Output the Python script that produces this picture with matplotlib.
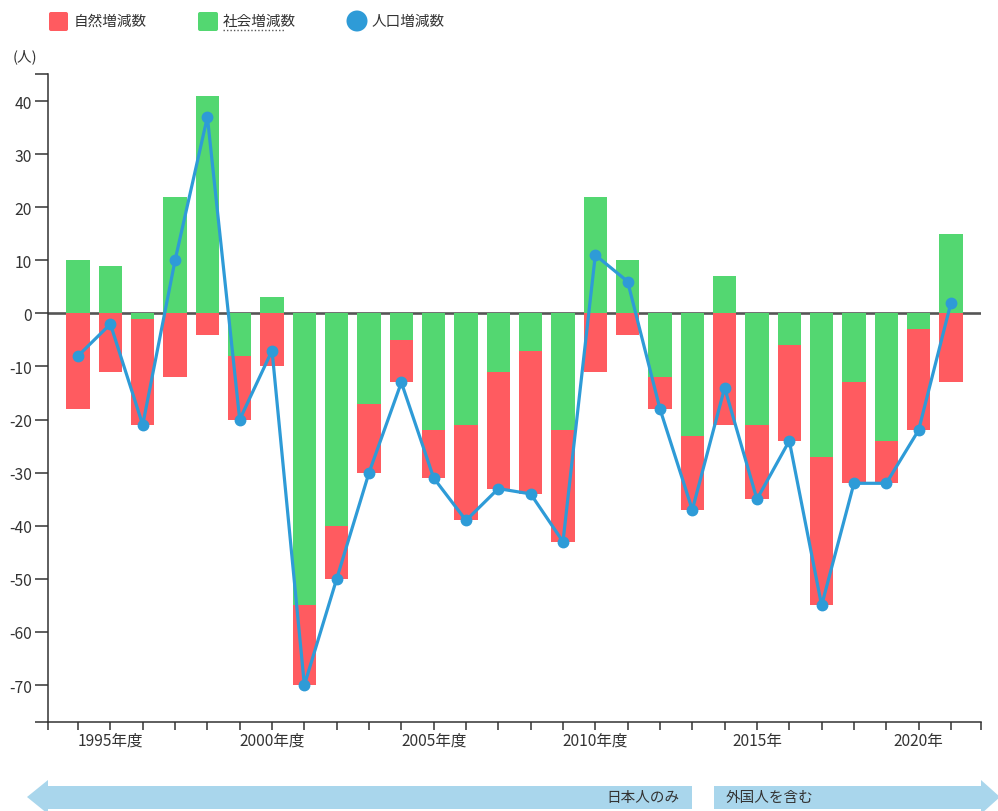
#!/usr/bin/env python3
"""
Population change chart: natural / social change (stacked bars) and total (line).
"""
import matplotlib
matplotlib.use("Agg")
import matplotlib.pyplot as plt
from matplotlib.patches import Polygon, FancyBboxPatch, Circle

plt.rcParams["font.family"] = ["Noto Sans CJK JP", "DejaVu Sans"]

years = list(range(1994, 2022))
natural = [-18, -11, -20, -12, -4, -12, -10, -15, -10, -13, -8, -9, -18, -22,
           -27, -21, -11, -4, -6, -14, -21, -14, -18, -28, -19, -8, -19, -13]
social = [10, 9, -1, 22, 41, -8, 3, -55, -40, -17, -5, -22, -21, -11,
          -7, -22, 22, 10, -12, -23, 7, -21, -6, -27, -13, -24, -3, 15]
total = [-8, -2, -21, 10, 37, -20, -7, -70, -50, -30, -13, -31, -39, -33,
         -34, -43, 11, 6, -18, -37, -14, -35, -24, -55, -32, -32, -22, 2]
label_years = [1995, 2000, 2005, 2010, 2015, 2020]
label_texts = ["1995年度", "2000年度", "2005年度", "2010年度", "2015年", "2020年"]
yticks = [40, 30, 20, 10, 0, -10, -20, -30, -40, -50, -60, -70]
series_names = ["自然増減数", "社会増減数", "人口増減数"]
period_names = ["日本人のみ", "外国人を含む"]

RED = "#ff5b60"
GREEN = "#53d771"
BLUE = "#2e9bd7"
ARROW = "#a9d6ec"
TEXT = "#333333"

W, H = 998, 812
fig = plt.figure(figsize=(W / 100, H / 100), dpi=100)
ax = fig.add_axes([48 / W, 1 - 723 / H, (981 - 48) / W, (723 - 75) / H])

# stacking: social sits next to zero, natural continues past it (same sign)
nat_bottom = [s if s < 0 else 0 for s in social]
ax.axhline(0, color="#555555", lw=1.9, zorder=1)
ax.bar(years, social, width=0.72, color=GREEN, zorder=2)
ax.bar(years, natural, width=0.72, bottom=nat_bottom, color=RED, zorder=2)
ax.plot(years, total, color=BLUE, lw=2.3, marker="o", ms=7.5, zorder=3)

x0, x1 = 1993.07, 2021.93
y0, y1 = -76.96, 45.09
ax.set_xlim(x0, x1)
ax.set_ylim(y0, y1)

for side in ["top", "right"]:
    ax.spines[side].set_visible(False)
for side in ["left", "bottom"]:
    ax.spines[side].set_color(TEXT)
    ax.spines[side].set_linewidth(1.1)

ax.set_yticks(yticks)
ax.set_yticklabels([str(v) for v in yticks])
ax.set_yticks([y0, y1], minor=True)
ax.tick_params(axis="y", which="both", length=9.5, width=1.1, color=TEXT,
               labelsize=11.3, labelcolor=TEXT, pad=2)

ax.set_xticks(years)
ax.set_xticklabels([label_texts[label_years.index(y)] if y in label_years else ""
                    for y in years])
ax.set_xticks([x0, x1], minor=True)
ax.tick_params(axis="x", which="both", length=6, width=1.1, color=TEXT,
               labelsize=11.2, labelcolor=TEXT, pad=1)

# overlay in pixel coordinates for legend, unit label and period arrows
ov = fig.add_axes([0, 0, 1, 1], facecolor="none")
ov.set_xlim(0, W)
ov.set_ylim(H, 0)
ov.axis("off")

ov.add_patch(FancyBboxPatch((49, 13), 19, 19, boxstyle="round,pad=0,rounding_size=2",
                            color=RED, lw=0))
ov.text(74, 22, series_names[0], fontsize=10.5, color=TEXT, va="center")
ov.add_patch(FancyBboxPatch((198, 13), 20, 19, boxstyle="round,pad=0,rounding_size=2",
                            color=GREEN, lw=0))
ov.text(223, 22, series_names[1], fontsize=10.5, color=TEXT, va="center")
ov.plot([223, 285], [31, 31], color="#555555", lw=1, ls=(0, (1, 1.5)))
ov.add_patch(Circle((357, 22), 10.5, color=BLUE, lw=0))
ov.text(372, 22, series_names[2], fontsize=10.5, color=TEXT, va="center")

ov.text(13, 57, "(人)", fontsize=10.5, color=TEXT, va="center")

ov.add_patch(Polygon([(27, 798), (48, 781), (48, 787), (692, 787), (692, 810),
                      (48, 810), (48, 815)], closed=True, color=ARROW, lw=0))
ov.add_patch(Polygon([(714, 787), (981, 787), (981, 781), (1000, 798), (981, 815),
                      (981, 810), (714, 810)], closed=True, color=ARROW, lw=0))
ov.text(680, 798, period_names[0], fontsize=10.5, color=TEXT, ha="right", va="center")
ov.text(726, 798, period_names[1], fontsize=10.5, color=TEXT, ha="left", va="center")

fig.savefig("out.png", dpi=100)
